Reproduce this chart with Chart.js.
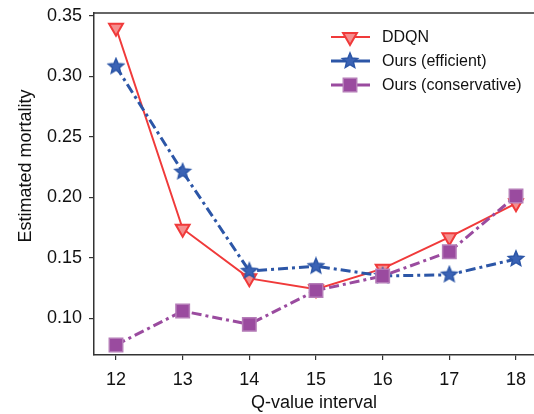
<!DOCTYPE html>
<html><head><meta charset="utf-8">
<script src="https://cdn.jsdelivr.net/npm/chart.js@4/dist/chart.umd.min.js"></script>
<style>html,body{margin:0;padding:0;background:#fff}#wrap{width:534px;height:414px}</style>
</head><body><div id="wrap"><canvas id="c" width="534" height="414"></canvas></div>
<script>
const categories = [12, 13, 14, 15, 16, 17, 18];
const ddqn = [0.340, 0.174, 0.133, 0.124, 0.141, 0.167, 0.195];
const oursEfficient = [0.308, 0.221, 0.139, 0.143, 0.135, 0.136, 0.149];
const oursConservative = [0.078, 0.106, 0.095, 0.123, 0.135, 0.155, 0.201];
const xTicks = [12, 13, 14, 15, 16, 17, 18];
const yTicks = [0.10, 0.15, 0.20, 0.25, 0.30, 0.35];
const seriesNames = ['DDQN', 'Ours (efficient)', 'Ours (conservative)'];

const RED = '#f03a3a', BLUE = '#2c56a7', PURPLE = '#9a4b9f';
const FONT = '"Liberation Sans", Arial, sans-serif';

function starCanvas(r, fill, stroke) {
  const s = Math.ceil(r * 2 + 4);
  const cv = document.createElement('canvas');
  cv.width = s; cv.height = s;
  const g = cv.getContext('2d');
  g.beginPath();
  for (let i = 0; i < 10; i++) {
    const rr = i % 2 === 0 ? r : r * 0.45;
    const a = -Math.PI / 2 + i * Math.PI / 5;
    const px = s / 2 + rr * Math.cos(a), py = s / 2 + rr * Math.sin(a);
    i === 0 ? g.moveTo(px, py) : g.lineTo(px, py);
  }
  g.closePath();
  g.fillStyle = fill; g.fill();
  g.lineWidth = 1.5; g.strokeStyle = stroke; g.stroke();
  return cv;
}
const star = starCanvas(8, '#3b63b5', BLUE);

const toPts = arr => categories.map((c, i) => ({x: c, y: arr[i]}));

const dsRed = {label: seriesNames[0], data: toPts(ddqn), borderColor: RED, borderWidth: 2,
  pointStyle: 'triangle', rotation: 180, pointRadius: 8, pointBackgroundColor: '#f58e8e',
  pointBorderColor: RED, pointBorderWidth: 2, order: 2};
const dsBlue = {label: seriesNames[1], data: toPts(oursEfficient), borderColor: BLUE, borderWidth: 3,
  borderDash: [10, 4, 3, 4], pointStyle: star, pointRadius: 8, order: 1};
const dsPurple = {label: seriesNames[2], data: toPts(oursConservative), borderColor: PURPLE, borderWidth: 3,
  borderDash: [10, 4, 3, 4], pointStyle: 'rect', pointRadius: 9.5, pointBackgroundColor: PURPLE,
  pointBorderColor: '#b57db8', pointBorderWidth: 1.5, order: 0};

const decor = {
  id: 'decor',
  afterDraw(chart) {
    const ctx = chart.ctx;
    const sets = [dsRed, dsBlue, dsPurple];
    const rows = [37, 61, 85];
    const a = chart.chartArea;
    ctx.save();
    ctx.strokeStyle = '#333'; ctx.lineWidth = 1.5;
    ctx.beginPath(); ctx.moveTo(a.left, a.top); ctx.lineTo(a.right, a.top); ctx.stroke();
    ctx.fillStyle = '#111'; ctx.font = '18px ' + FONT;
    ctx.textAlign = 'center'; ctx.textBaseline = 'middle';
    ctx.translate(26, 166); ctx.rotate(-Math.PI / 2);
    ctx.fillText('Estimated mortality', 0, 0);
    ctx.restore();
    sets.forEach((d, i) => {
      const y = rows[i];
      ctx.save();
      ctx.strokeStyle = d.borderColor; ctx.lineWidth = d.borderWidth;
      ctx.beginPath(); ctx.moveTo(331, y); ctx.lineTo(370, y); ctx.stroke();
      ctx.fillStyle = d.pointBackgroundColor || d.borderColor;
      ctx.strokeStyle = d.pointBorderColor || d.borderColor;
      ctx.lineWidth = d.pointBorderWidth || 1;
      Chart.helpers.drawPoint(ctx, {
        pointStyle: d.pointStyle, rotation: d.rotation || 0, radius: d.pointRadius,
        borderWidth: d.pointBorderWidth || 0
      }, 350, y);
      ctx.fillStyle = '#111'; ctx.font = '16px ' + FONT;
      ctx.textAlign = 'left'; ctx.textBaseline = 'middle';
      ctx.fillText(d.label, 382, y + 1);
      ctx.restore();
    });
  }
};

const noPad = s => {
  s.paddingLeft = s.paddingRight = s.paddingTop = s.paddingBottom = 0;
  s.getPadding = () => ({left: 0, top: 0, right: 0, bottom: 0});
};

new Chart(document.getElementById('c'), {
  type: 'line',
  data: {datasets: [dsRed, dsBlue, dsPurple]},
  plugins: [decor],
  options: {
    responsive: false, animation: false, devicePixelRatio: 1,
    layout: {autoPadding: false, padding: {top: 13, right: 0, left: 0, bottom: 0}},
    plugins: {legend: {display: false}, tooltip: {enabled: false}},
    scales: {
      x: {
        type: 'linear', min: 11.67, max: 18.27,
        afterBuildTicks: s => { s.ticks = xTicks.map(v => ({value: v})); },
        afterFit: s => { s.height = 59; noPad(s); },
        grid: {display: true, drawOnChartArea: false, drawTicks: true, tickLength: 5, color: '#333', lineWidth: 1.2},
        border: {display: true, color: '#333', width: 1.5},
        ticks: {color: '#111', font: {family: FONT, size: 18}, padding: 9, maxRotation: 0, autoSkip: false,
          callback: v => String(v)},
        title: {display: true, text: 'Q-value interval', color: '#111', font: {family: FONT, size: 18}, padding: {top: 0, bottom: 0}}
      },
      y: {
        type: 'linear', min: 0.0697, max: 0.3522,
        afterBuildTicks: s => { s.ticks = yTicks.map(v => ({value: v})); },
        afterFit: s => { s.width = 94; noPad(s); },
        grid: {display: true, drawOnChartArea: false, drawTicks: true, tickLength: 5, color: '#333', lineWidth: 1.2},
        border: {display: true, color: '#333', width: 1.5},
        ticks: {color: '#111', font: {family: FONT, size: 18}, padding: 7, callback: v => v.toFixed(2)}
      }
    }
  }
});
</script>
</body></html>
